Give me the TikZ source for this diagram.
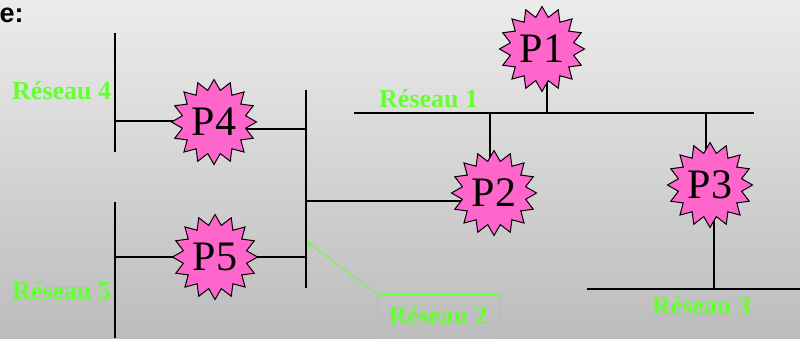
\documentclass[tikz,border=0pt]{standalone}
\usepackage{fontspec}
\setmainfont{Liberation Serif}
\newfontfamily\labelsans{Liberation Sans}
\usetikzlibrary{shapes.geometric,arrows.meta,backgrounds}
\definecolor{netgreen}{RGB}{102,255,51}
\definecolor{hostpink}{RGB}{255,102,204}
\definecolor{bgtop}{RGB}{236,236,236}
\definecolor{bgbottom}{RGB}{188,188,188}
\tikzset{
  host/.style={star, star points=16, star point ratio=1.32, minimum size=85pt,
    inner sep=0pt, fill=hostpink, draw=black, line width=1pt,
    font=\fontsize{42}{42}\selectfont},
  bus/.style={line width=2.2pt, black},
  netlabel/.style={text=netgreen, font=\fontsize{26}{26}\selectfont\bfseries, inner sep=0pt},
}
\begin{document}
\begin{tikzpicture}[x=1pt,y=-1pt]
\useasboundingbox (0,0) rectangle (800,338);

% hosts
\node[host] (P1) at (542,49)  {P1};
\node[host] (P2) at (494,193) {P2};
\node[host] (P3) at (710,185) {P3};
\node[host] (P4) at (214,122) {P4};
\node[host] (P5) at (215,257) {P5};

% network labels
\node[netlabel, anchor=base west] (L1) at (379,107) {Réseau 1};
\node[netlabel, anchor=base west] (L3) at (652,314) {Réseau 3};
\node[netlabel, anchor=base west] (L4) at (12,99)   {Réseau 4};
\node[netlabel, anchor=base west] (L5) at (12,299)  {Réseau 5};
\node[draw=netgreen, line width=0.8pt, text=netgreen,
      font=\fontsize{26}{26}\selectfont\bfseries,
      minimum width=122pt, minimum height=43pt, inner sep=0pt]
      (L2) at (438,315.5) {Réseau 2};

\node[font=\labelsans\fontsize{27}{27}\selectfont\bfseries, anchor=base west, inner sep=0pt]
      (title) at (-0.5,22) {e:};

% bus end points and taps
\coordinate (n1a) at (354,113);  \coordinate (n1b) at (754,113);
\coordinate (n2a) at (306,90);   \coordinate (n2b) at (306,288);
\coordinate (n3a) at (587,289);  \coordinate (n3b) at (800,289);
\coordinate (n4a) at (115,33);   \coordinate (n4b) at (115,152);
\coordinate (n5a) at (115,202);  \coordinate (n5b) at (115,338);
\coordinate (t1)  at (547,113);
\coordinate (t2a) at (490,113);
\coordinate (t2b) at (306,201);
\coordinate (t3a) at (706,113);
\coordinate (t3b) at (714,289);
\coordinate (t4a) at (115,121);
\coordinate (t4b) at (306,129);
\coordinate (t5a) at (115,257);
\coordinate (t5b) at (306,257);
\coordinate (tip) at (307,242);

\begin{scope}[on background layer]
  \shade[top color=bgtop, bottom color=bgbottom] (0,0) rectangle (800,338);
  % networks
  \draw[bus] (n1a) -- (n1b);
  \draw[bus] (n2a) -- (n2b);
  \draw[bus] (n3a) -- (n3b);
  \draw[bus] (n4a) -- (n4b);
  \draw[bus] (n5a) -- (n5b);
  % host attachments
  \draw[bus] (t1)  -- (t1 |- P1.center);
  \draw[bus] (t2a) -- (t2a |- P2.center);
  \draw[bus] (t2b) -- (t2b -| P2.center);
  \draw[bus] (t3a) -- (t3a |- P3.center);
  \draw[bus] (t3b) -- (t3b |- P3.center);
  \draw[bus] (t4a) -- (t4a -| P4.center);
  \draw[bus] (t4b) -- (t4b -| P4.center);
  \draw[bus] (t5a) -- (t5a -| P5.center);
  \draw[bus] (t5b) -- (t5b -| P5.center);
\end{scope}

% callout to network 2
\draw[netgreen, line width=0.8pt, -{Straight Barb[length=7pt,width=7pt]}] (L2.north west) -- (tip);
\end{tikzpicture}
\end{document}
